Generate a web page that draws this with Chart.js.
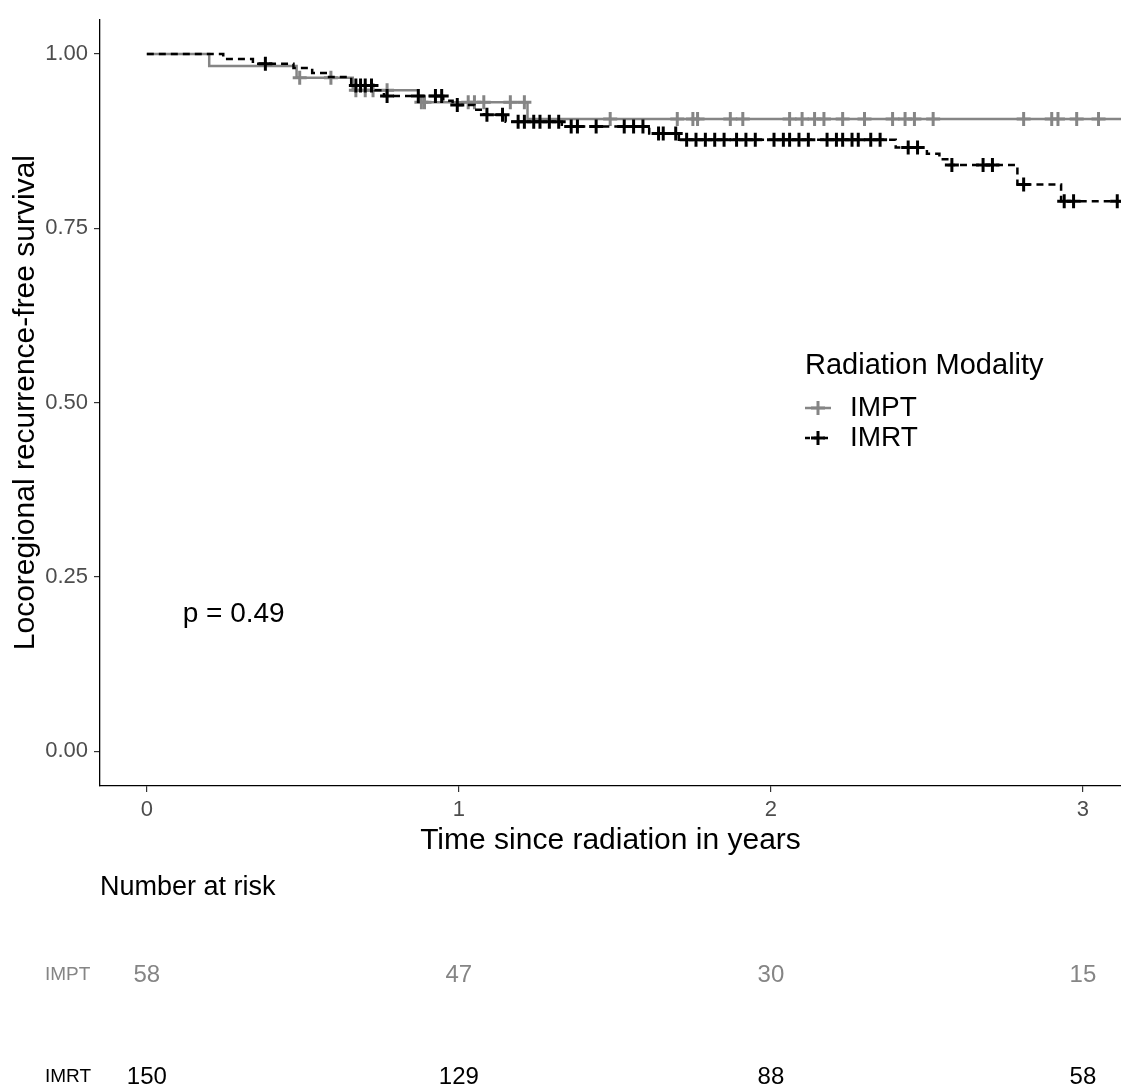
<!DOCTYPE html>
<html>
<head>
<meta charset="utf-8">
<script src="https://cdn.jsdelivr.net/npm/chart.js@4.4.0/dist/chart.umd.min.js"></script>
<style>
  html, body { margin: 0; padding: 0; background: #fff; }
  #wrap { position: relative; width: 1121px; height: 1085px; }
</style>
</head>
<body>
<div id="wrap"><canvas id="kmChart" width="1121" height="1085"></canvas></div>
<script>
// Kaplan-Meier steps (time in years, survival after the drop)
const imptTimes = [0, 0.20, 0.48, 0.66, 0.87, 1.22, 3.122];
const imptSurv  = [1.000, 0.983, 0.966, 0.948, 0.931, 0.907, 0.907];
const imptCensor = [0.49, 0.59, 0.67, 0.70, 0.725, 0.77, 0.88, 0.89, 1.03, 1.05, 1.08, 1.165, 1.21,
  1.485, 1.70, 1.75, 1.765, 1.87, 1.91, 2.06, 2.10, 2.14, 2.17, 2.23, 2.30, 2.39, 2.43, 2.46, 2.52,
  2.81, 2.90, 2.92, 2.98, 3.05];

const imrtTimes = [0, 0.245, 0.34, 0.47, 0.53, 0.58, 0.655, 0.73, 0.76, 0.95, 0.98, 1.05, 1.08, 1.15,
  1.33, 1.61, 1.705, 2.40, 2.50, 2.54, 2.57, 2.79, 2.93, 3.122];
const imrtSurv  = [1.000, 0.993, 0.986, 0.980, 0.973, 0.967, 0.955, 0.948, 0.940, 0.933, 0.927, 0.920, 0.913, 0.903,
  0.896, 0.886, 0.877, 0.866, 0.857, 0.849, 0.841, 0.813, 0.789, 0.789];
const imrtCensor = [0.38, 0.67, 0.685, 0.70, 0.72, 0.77, 0.87, 0.925, 0.945, 0.995, 1.09, 1.14,
  1.19, 1.21, 1.24, 1.26, 1.29, 1.32, 1.36, 1.38, 1.44, 1.53, 1.56, 1.59, 1.64, 1.655, 1.695,
  1.73, 1.76, 1.79, 1.82, 1.85, 1.89, 1.92, 1.95, 2.01, 2.04, 2.06, 2.09, 2.12,
  2.18, 2.21, 2.23, 2.26, 2.28, 2.32, 2.35, 2.44, 2.47, 2.58, 2.68, 2.71, 2.81, 2.94, 2.97, 3.11];

const xTicks = [0, 1, 2, 3];
const yTicks = [0, 0.25, 0.5, 0.75, 1.0];

const riskTimes = [0, 1, 2, 3];
const riskImpt = [58, 47, 30, 15];
const riskImrt = [150, 129, 88, 58];
const pText = 'p = 0.49';

const FONT = '"Liberation Sans", Arial, sans-serif';
const GREY = '#858585';

function steps(times, surv) {
  return times.map((t, i) => ({ x: t, y: surv[i] }));
}
function survAt(times, surv, t) {
  let s = surv[0];
  for (let i = 0; i < times.length; i++) if (times[i] <= t) s = surv[i];
  return s;
}
function censorPts(c, times, surv) {
  return c.map(t => ({ x: t, y: survAt(times, surv, t) }));
}

const extras = {
  id: 'extras',
  afterDatasetsDraw(chart) {
    const { ctx, scales } = chart;
    ctx.save();
    // p value
    ctx.fillStyle = '#000';
    ctx.font = '28px ' + FONT;
    ctx.textAlign = 'left';
    ctx.textBaseline = 'middle';
    ctx.fillText(pText, scales.x.getPixelForValue(0.115), scales.y.getPixelForValue(0.197));

    // legend
    const lx = 805;
    ctx.font = '29px ' + FONT;
    ctx.fillText('Radiation Modality', lx, 366);
    const items = [
      { label: 'IMPT', color: GREY, dash: [], y: 408 },
      { label: 'IMRT', color: '#000', dash: [5, 4], y: 438 }
    ];
    items.forEach(it => {
      ctx.strokeStyle = it.color;
      ctx.lineWidth = 2.5;
      ctx.setLineDash(it.dash);
      ctx.beginPath();
      ctx.moveTo(lx, it.y); ctx.lineTo(lx + 26, it.y);
      ctx.stroke();
      ctx.setLineDash([]);
      ctx.lineWidth = 3;
      ctx.beginPath();
      ctx.moveTo(lx + 6, it.y); ctx.lineTo(lx + 20, it.y);
      ctx.moveTo(lx + 13, it.y - 7); ctx.lineTo(lx + 13, it.y + 7);
      ctx.stroke();
      ctx.fillStyle = '#000';
      ctx.font = '28px ' + FONT;
      ctx.fillText(it.label, lx + 45, it.y);
    });
    ctx.restore();
  },
  afterDraw(chart) {
    const { ctx, scales } = chart;
    ctx.save();
    ctx.textBaseline = 'middle';
    ctx.fillStyle = '#000';
    ctx.font = '27px ' + FONT;
    ctx.textAlign = 'left';
    ctx.fillText('Number at risk', 100, 888);

    const rows = [
      { label: 'IMPT', vals: riskImpt, color: GREY, y: 975 },
      { label: 'IMRT', vals: riskImrt, color: '#000', y: 1077 }
    ];
    rows.forEach(r => {
      ctx.fillStyle = r.color;
      ctx.font = '19px ' + FONT;
      ctx.textAlign = 'left';
      ctx.fillText(r.label, 45, r.y);
      ctx.font = '24px ' + FONT;
      ctx.textAlign = 'center';
      r.vals.forEach((v, i) => {
        ctx.fillText(String(v), scales.x.getPixelForValue(riskTimes[i]), r.y);
      });
    });
    ctx.restore();
  }
};

const ctx = document.getElementById('kmChart').getContext('2d');
new Chart(ctx, {
  type: 'scatter',
  data: {
    datasets: [
      {
        label: 'IMRT',
        data: steps(imrtTimes, imrtSurv),
        showLine: true,
        stepped: 'before',
        borderColor: '#000',
        borderWidth: 2.5,
        borderDash: [7, 5],
        pointRadius: 0,
        order: 1
      },
      {
        label: 'IMRT censored',
        data: censorPts(imrtCensor, imrtTimes, imrtSurv),
        showLine: false,
        pointStyle: 'cross',
        pointRadius: 7,
        borderColor: '#000',
        borderWidth: 3,
        order: 0
      },
      {
        label: 'IMPT',
        data: steps(imptTimes, imptSurv),
        showLine: true,
        stepped: 'before',
        borderColor: GREY,
        borderWidth: 2.5,
        pointRadius: 0,
        order: 3
      },
      {
        label: 'IMPT censored',
        data: censorPts(imptCensor, imptTimes, imptSurv),
        showLine: false,
        pointStyle: 'cross',
        pointRadius: 7,
        borderColor: GREY,
        borderWidth: 3,
        order: 2
      }
    ]
  },
  options: {
    responsive: false,
    animation: false,
    layout: { autoPadding: false, padding: { top: 17, right: 0, bottom: 224, left: 0 } },
    plugins: {
      legend: { display: false },
      tooltip: { enabled: false }
    },
    scales: {
      x: {
        type: 'linear',
        min: -0.15,
        max: 3.122,
        afterBuildTicks: s => { s.ticks = xTicks.map(v => ({ value: v })); },
        afterFit: s => { s.height = 75; s.paddingRight = 0; },
        grid: { display: true, drawOnChartArea: false, drawTicks: true, tickLength: 6, color: '#333', lineWidth: 1.2 },
        border: { display: true, color: '#000', width: 1.3 },
        ticks: { color: '#4d4d4d', autoSkip: false, maxRotation: 0, padding: 5, font: { family: FONT, size: 22 } },
        title: { display: true, text: 'Time since radiation in years', color: '#000', font: { family: FONT, size: 30 }, padding: { top: 0, bottom: 2 } }
      },
      y: {
        type: 'linear',
        min: -0.05,
        max: 1.05,
        afterBuildTicks: s => { s.ticks = yTicks.map(v => ({ value: v })); },
        afterFit: s => { s.width = 100; },
        grid: { display: true, drawOnChartArea: false, drawTicks: true, tickLength: 6, color: '#333', lineWidth: 1.2 },
        border: { display: true, color: '#000', width: 1.3 },
        ticks: { color: '#4d4d4d', padding: 6, font: { family: FONT, size: 22 }, callback: v => v.toFixed(2) },
        title: { display: true, text: 'Locoregional recurrence-free survival', color: '#000', font: { family: FONT, size: 30 }, padding: { top: 8, bottom: 0 } }
      }
    }
  },
  plugins: [extras]
});
</script>
</body>
</html>
